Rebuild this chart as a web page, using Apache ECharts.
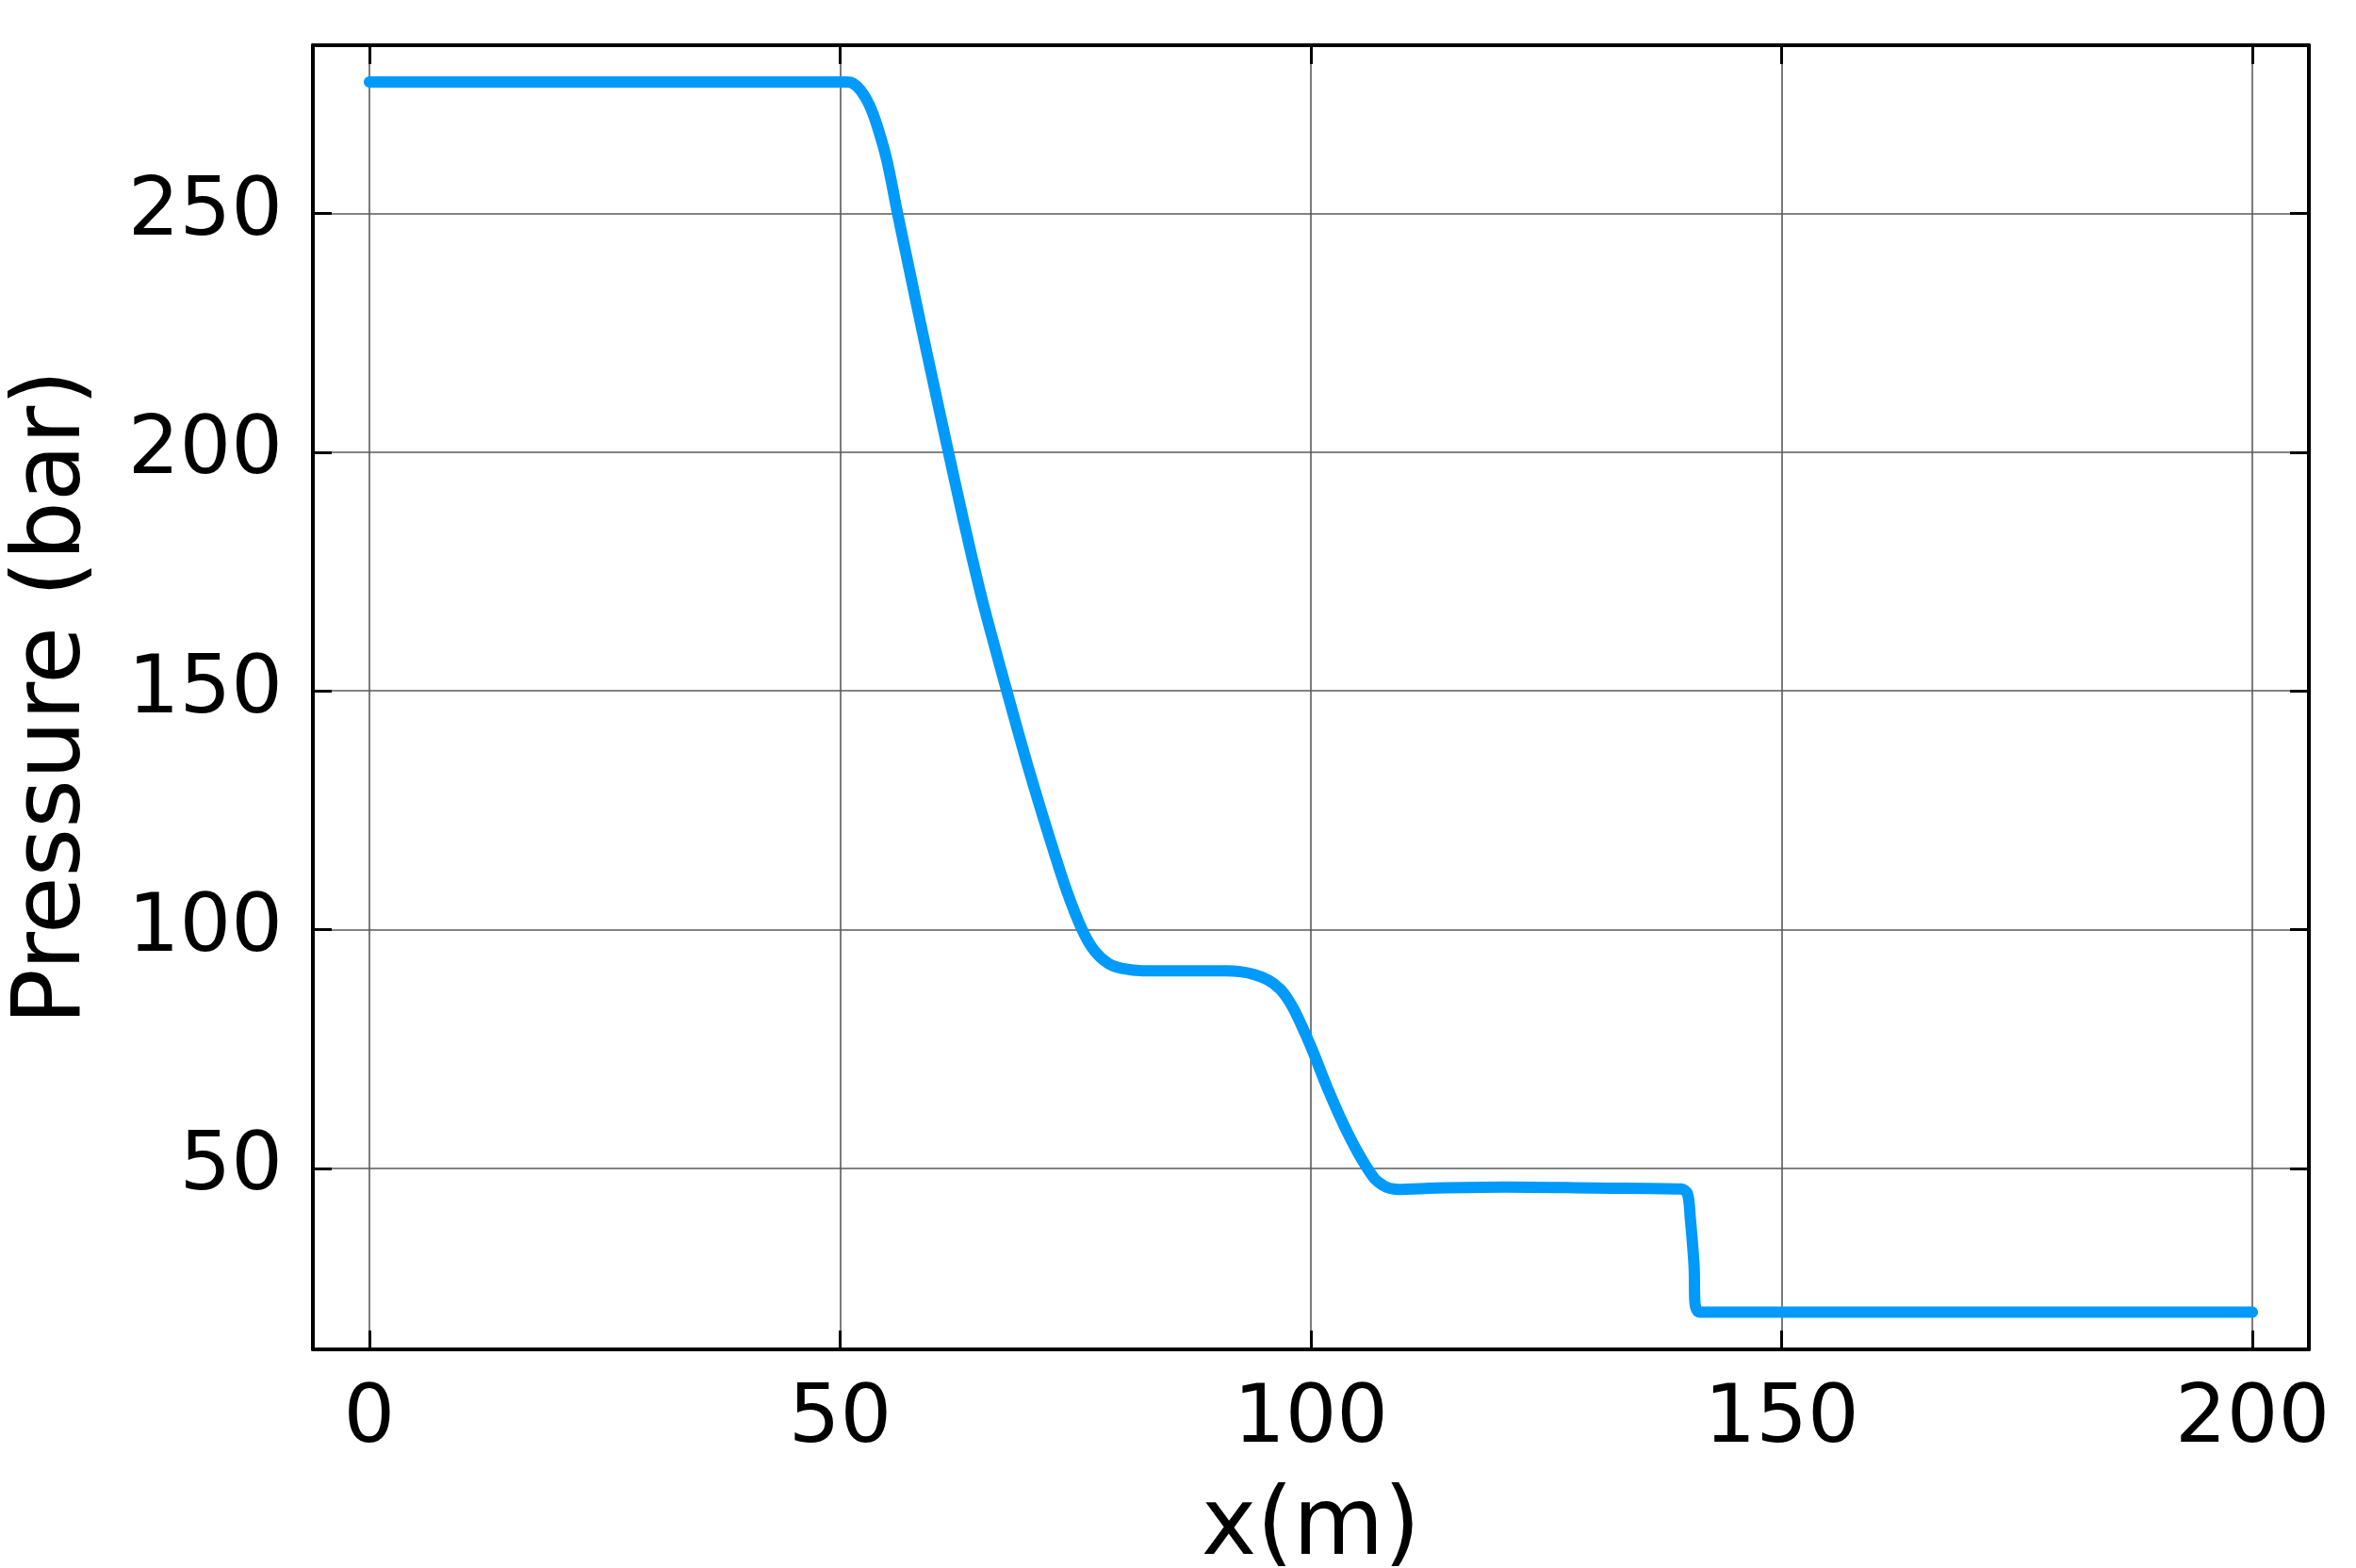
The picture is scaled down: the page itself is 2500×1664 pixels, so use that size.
<!DOCTYPE html>
<html>
<head>
<meta charset="utf-8">
<title>Pressure profile</title>
<script src="https://cdn.jsdelivr.net/npm/echarts@6/dist/echarts.min.js"></script>
<style>
  html, body { margin: 0; padding: 0; background: #fff; }
  #main { width: 2500px; height: 1664px; }
</style>
</head>
<body>
<div id="main"></div>
<script>
// x positions (m)
var xs = [0, 50, 50.7, 51.4, 52.2, 53.1, 54.0, 55.0, 56.1, 57.0, 58.5, 60.0, 61.5, 63.3, 65.1,
  67.7, 69.9, 72.2, 74.0, 75.7, 77.0, 78.5, 79.9, 82.2, 91.0, 92.5, 94.0, 95.5, 96.7, 97.5,
  98.3, 100, 101.7, 103.3, 105, 106.7, 107.4, 108, 108.7, 109.3, 113.3, 120.7, 130, 139.3,
  140, 140.3, 140.7, 140.8, 141.3, 200];
// pressure (bar)
var pressure = [277.5, 277.5, 277.5, 277.2, 275.7, 272.7, 267.9, 260.8, 250, 241.5, 227.4, 213.6, 200, 184.0, 169.0,
  150, 134.5, 119.5, 108.5, 100, 95.6, 92.9, 91.9, 91.4, 91.4, 91.2, 90.6, 89.4, 87.6, 85.6,
  82.9, 75.5, 67.1, 59.9, 53.3, 48.0, 46.8, 46.1, 45.7, 45.6, 45.9, 46.1, 45.9, 45.7,
  44.7, 39.5, 29.6, 21.7, 19.9, 19.9];

var xRange = [-6, 206];
var yRange = [12.1, 285.2];

var font = 'DejaVu Sans';

var points = xs.map(function (x, i) { return [x, pressure[i]]; });

var myChart = echarts.init(document.getElementById('main'));

function axisBase(min, max, pos, labels) {
  return {
    type: 'value',
    position: pos,
    min: min,
    max: max,
    minInterval: 50,
    maxInterval: 50,
    axisLine: { show: true, onZero: false, lineStyle: { color: '#000', width: 4 } },
    axisTick: { show: true, inside: true, length: 20, lineStyle: { color: '#000', width: 3 } },
    splitLine: { show: false },
    axisLabel: { show: labels }
  };
}

var xBottom = axisBase(xRange[0], xRange[1], 'bottom', true);
xBottom.splitLine = { show: true, lineStyle: { color: '#5a5a5a', width: 1.6 } };
xBottom.axisLabel = {
  show: true, margin: 33, fontFamily: font, fontSize: 86, color: '#000',
  showMinLabel: false, showMaxLabel: false
};
xBottom.name = 'x(m)';
xBottom.nameLocation = 'middle';
xBottom.nameGap = 142;
xBottom.nameTextStyle = { fontFamily: font, fontSize: 99, color: '#000' };

var yLeft = axisBase(yRange[0], yRange[1], 'left', true);
yLeft.splitLine = { show: true, lineStyle: { color: '#5a5a5a', width: 1.6 } };
yLeft.axisLabel = {
  show: true, margin: 32, fontFamily: font, fontSize: 86, color: '#000',
  showMinLabel: false, showMaxLabel: false
};
yLeft.name = 'Pressure (bar)';
yLeft.nameLocation = 'middle';
yLeft.nameGap = 224;
yLeft.nameTextStyle = { fontFamily: font, fontSize: 99, color: '#000' };

var option = {
  animation: false,
  backgroundColor: '#fff',
  grid: { left: 332, right: 50, top: 48, bottom: 232, outerBoundsMode: 'none' },
  xAxis: [xBottom, axisBase(xRange[0], xRange[1], 'top', false)],
  yAxis: [yLeft, axisBase(yRange[0], yRange[1], 'right', false)],
  series: [
    {
      type: 'line',
      xAxisIndex: 0,
      yAxisIndex: 0,
      data: points,
      showSymbol: false,
      smooth: 0.3,
      lineStyle: { color: '#009AFA', width: 12, cap: 'round', join: 'round' }
    }
  ]
};

myChart.setOption(option);
</script>
</body>
</html>
